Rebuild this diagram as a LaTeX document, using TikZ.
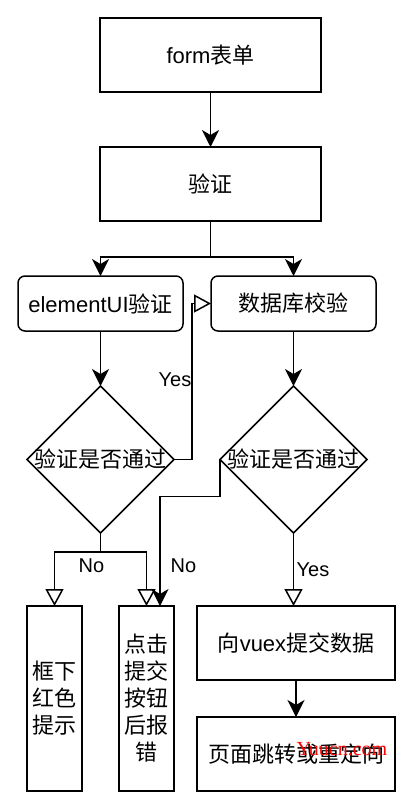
\documentclass[tikz,border=0pt]{standalone}
\usepackage{fontspec}
\setmainfont{Liberation Sans}
\newfontfamily\cjk{Noto Sans CJK SC}
\newfontfamily\wmfont{Liberation Serif}
\usetikzlibrary{arrows.meta,shapes.geometric}
\begin{document}
\begin{tikzpicture}[x=1pt,y=-1pt,
  base/.style={line width=1.5pt, inner sep=0pt, outer sep=0pt, align=center, font=\fontsize{22}{27}\selectfont},
  box/.style={base, draw},
  rbox/.style={base, draw, rounded corners=7pt},
  dia/.style={draw, diamond, line width=1.5pt, inner sep=0pt, outer sep=0pt, minimum width=147pt, minimum height=147pt},
  lbl/.style={inner sep=0pt, font=\fontsize{20}{24}\selectfont},
  ln/.style={line width=1.5pt},
  fa/.style={ln, -{Stealth[length=17pt,width=17pt,inset=5pt]}},
  oa/.style={ln, -{Triangle[open,length=17pt,width=18pt]}}]
\useasboundingbox[fill=white] (0,0) rectangle (403,803);

\node[box, minimum width=221pt, minimum height=74pt] (form) at (210.5,55) {form{\cjk 表单}};
\node[box, minimum width=221pt, minimum height=74pt] (v) at (210.5,184) {\cjk 验证};
\node[rbox, minimum width=165pt, minimum height=55pt] (eu) at (100.5,303.5) {elementUI{\cjk 验证}};
\node[rbox, minimum width=165pt, minimum height=55pt] (db) at (293.5,303.5) {\cjk 数据库校验};
\node[dia] (d1) at (100.5,459.5) {};
\node[base] (t1) at (d1.center) {\cjk 验证是否通过};
\node[dia] (d2) at (293.5,459.5) {};
\node[base] (t2) at (d2.center) {\cjk 验证是否通过};
\node[box, minimum width=55pt, minimum height=185pt] (b1) at (54.5,698.5) {\cjk 框下\\\cjk 红色\\\cjk 提示};
\node[box, minimum width=55pt, minimum height=185pt] (b2) at (146.5,698.5) {\cjk 点击\\\cjk 提交\\\cjk 按钮\\\cjk 后报\\\cjk 错};
\node[box, minimum width=198pt, minimum height=74pt] (vx) at (296,643) {{\cjk 向}vuex{\cjk 提交数据}};
\node[box, minimum width=198pt, minimum height=74pt] (pg) at (296,754) {\cjk 页面跳转或重定向};

\draw[fa] (form) -- (v);
\draw[fa] (v.south) -- ++(0,36) -| (eu.north);
\draw[fa] (v.south) -- ++(0,36) -| (db.north);
\draw[fa] (eu.south) -- (d1.north);
\draw[fa] (db.south) -- (d2.north);
\draw[oa] (d1.east) -- ++(18,0) |- (db.west);
\draw[oa] (d1.south) -- ++(0,19) -| (b1.north);
\draw[oa] (d1.south) -- ++(0,19) -| (b2.north);
\draw[fa] (d2.west) -- ++(0,37) -| ([xshift=-14pt]b2.north east);
\draw[oa] (d2.south) -- (d2.south |- vx.north);
\draw[fa] (vx) -- (pg);

\node[lbl, anchor=east] (yes1) at (191.5,380) {Yes};
\node[lbl] (no1) at (91.5,566) {No};
\node[lbl] (no2) at (183.5,566) {No};
\node[lbl, anchor=west] (yes2) at (296.5,570) {Yes};
\node[inner sep=0pt, text=red, font=\wmfont\fontsize{20}{24}\selectfont] (wm) at (342,749) {Yuucn.com};
\end{tikzpicture}
\end{document}
